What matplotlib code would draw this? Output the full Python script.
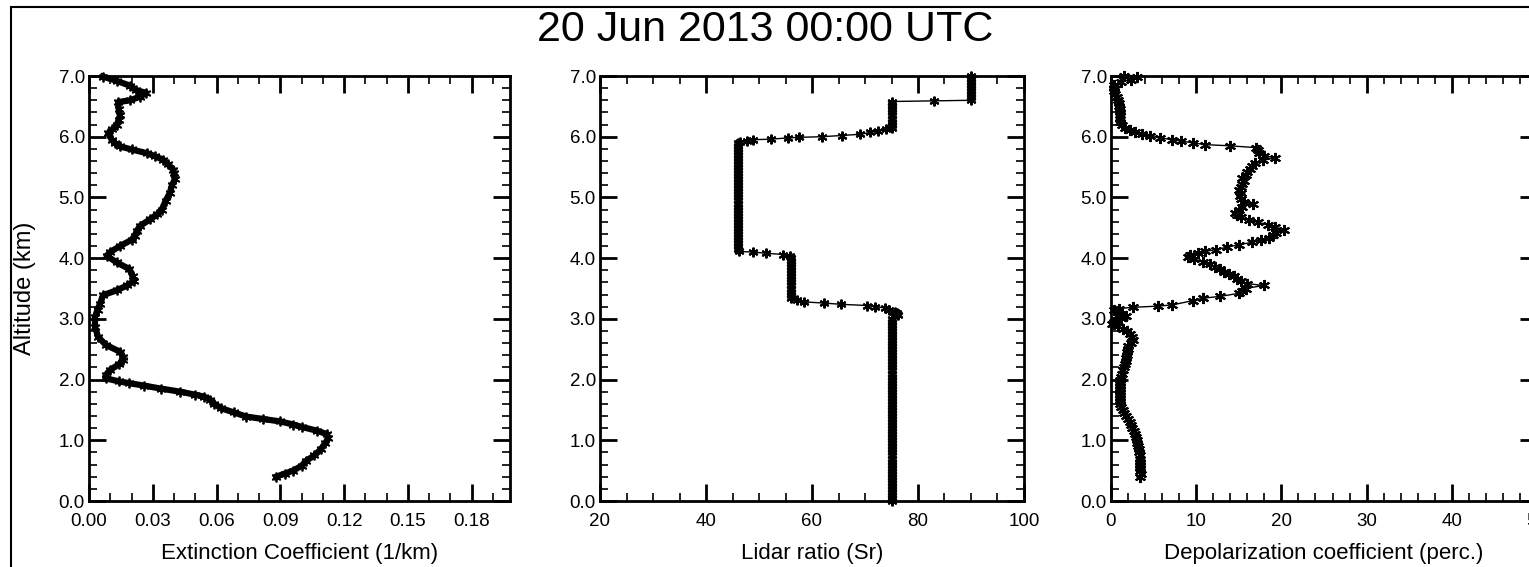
import matplotlib
matplotlib.use("Agg")
import matplotlib.pyplot as plt
from matplotlib.ticker import MultipleLocator, FormatStrFormatter
from matplotlib.patches import Rectangle

plt.rcParams['font.family'] = ['Liberation Sans', 'DejaVu Sans']

title = "20 Jun 2013 00:00 UTC"

# ---- Extinction coefficient (1/km) ----
ext_alt = [0.40, 0.45, 0.50, 0.58, 0.66, 0.75, 0.85, 0.95, 1.03, 1.10, 1.16, 1.22, 1.26, 1.31,
           1.35, 1.39, 1.46, 1.53, 1.60, 1.67, 1.72, 1.75, 1.80, 1.85, 1.90, 1.94, 1.97, 2.02,
           2.08, 2.16, 2.25, 2.32, 2.38, 2.46, 2.57, 2.70, 2.87, 3.03, 3.15, 3.25, 3.39, 3.47,
           3.55, 3.62, 3.70, 3.82, 3.93, 4.04, 4.10, 4.20, 4.30, 4.37, 4.45, 4.53, 4.64, 4.72,
           4.80, 4.94, 5.08, 5.20, 5.30, 5.40, 5.46, 5.55, 5.62, 5.68, 5.73, 5.79, 5.84, 5.90,
           5.95, 6.06, 6.12, 6.19, 6.28, 6.35, 6.45, 6.57, 6.60, 6.66, 6.72, 6.77, 6.84, 6.92,
           6.99]
ext_val = [0.088, 0.092, 0.096, 0.100, 0.102, 0.106, 0.109, 0.111, 0.1125, 0.112, 0.107, 0.100,
           0.096, 0.090, 0.082, 0.074, 0.068, 0.062, 0.059, 0.057, 0.054, 0.050, 0.043, 0.034,
           0.026, 0.019, 0.014, 0.008, 0.008, 0.010, 0.014, 0.016, 0.016, 0.0145, 0.008, 0.0043,
           0.0028, 0.0028, 0.004, 0.0052, 0.0066, 0.013, 0.018, 0.021, 0.0205, 0.019, 0.013,
           0.0083, 0.010, 0.0146, 0.020, 0.0216, 0.0225, 0.024, 0.0287, 0.032, 0.0342, 0.036,
           0.0381, 0.039, 0.0404, 0.0400, 0.0396, 0.037, 0.0349, 0.031, 0.0271, 0.020, 0.0146,
           0.012, 0.0107, 0.0090, 0.011, 0.013, 0.014, 0.0146, 0.014, 0.0137, 0.0193, 0.024,
           0.027, 0.022, 0.0193, 0.013, 0.0066]

# ---- Lidar ratio (Sr) ----
lr_alt = [0.00, 0.05, 0.10, 0.15, 0.20, 0.25, 0.30, 0.35, 0.40, 0.45, 0.50, 0.55, 0.60, 0.65,
          0.70, 0.75, 0.80, 0.85, 0.90, 0.95, 1.00, 1.05, 1.10, 1.15, 1.20, 1.25, 1.30, 1.35,
          1.40, 1.45, 1.50, 1.55, 1.60, 1.65, 1.70, 1.75, 1.80, 1.85, 1.90, 1.95, 2.00, 2.05,
          2.10, 2.15, 2.20, 2.25, 2.30, 2.35, 2.40, 2.45, 2.50, 2.55, 2.60, 2.65, 2.70, 2.75,
          2.80, 2.85, 2.90, 2.95, 3.00, 3.04, 3.07, 3.10, 3.12, 3.15, 3.18, 3.20, 3.22, 3.24,
          3.26, 3.28, 3.31, 3.34, 3.40, 3.45, 3.50, 3.55, 3.60, 3.65, 3.70, 3.75, 3.80, 3.85,
          3.90, 3.95, 4.00, 4.03, 4.06, 4.08, 4.10, 4.11, 4.15, 4.20, 4.25, 4.30, 4.35, 4.40,
          4.45, 4.50, 4.55, 4.60, 4.65, 4.70, 4.75, 4.80, 4.85, 4.90, 4.95, 5.00, 5.05, 5.10,
          5.15, 5.20, 5.25, 5.30, 5.35, 5.40, 5.45, 5.50, 5.55, 5.60, 5.65, 5.70, 5.75, 5.80,
          5.85, 5.90, 5.92, 5.93, 5.95, 5.96, 5.98, 5.99, 6.00, 6.02, 6.04, 6.07, 6.10, 6.13,
          6.15, 6.20, 6.25, 6.30, 6.35, 6.40, 6.45, 6.50, 6.55, 6.58, 6.59, 6.60, 6.65, 6.70,
          6.75, 6.80, 6.85, 6.90, 6.95, 7.00]
lr_val = [75, 75, 75, 75, 75, 75, 75, 75, 75, 75, 75, 75, 75, 75,
          75, 75, 75, 75, 75, 75, 75, 75, 75, 75, 75, 75, 75, 75,
          75, 75, 75, 75, 75, 75, 75, 75, 75, 75, 75, 75, 75, 75,
          75, 75, 75, 75, 75, 75, 75, 75, 75, 75, 75, 75, 75, 75,
          75, 75, 75, 75, 75, 75.5, 76.3, 76.0, 75.7, 74.5, 73.8, 71.9, 70.3, 65.4,
          62.3, 58.4, 57.1, 56, 56, 56, 56, 56, 56, 56, 56, 56, 56, 56,
          56, 56, 56, 55.8, 54.6, 51.4, 48.9, 46.2, 46, 46, 46, 46, 46, 46,
          46, 46, 46, 46, 46, 46, 46, 46, 46, 46, 46, 46, 46, 46,
          46, 46, 46, 46, 46, 46, 46, 46, 46, 46, 46, 46, 46, 46,
          46, 46, 46.4, 47.7, 48.9, 52.2, 55.5, 57.6, 61.8, 65.6, 69.0, 71.0, 72.5, 74.0,
          75, 75, 75, 75, 75, 75, 75, 75, 75, 75, 83, 90, 90, 90,
          90, 90, 90, 90, 90, 90]

# ---- Depolarization coefficient (perc.) ----
dep_alt = [0.40, 0.45, 0.50, 0.55, 0.60, 0.65, 0.70, 0.75, 0.80, 0.85, 0.90, 0.95, 1.00, 1.05,
           1.10, 1.15, 1.20, 1.25, 1.30, 1.35, 1.40, 1.45, 1.50, 1.55, 1.60, 1.65, 1.70, 1.75,
           1.80, 1.85, 1.90, 1.95, 2.00, 2.05, 2.10, 2.15, 2.20, 2.25, 2.30, 2.35, 2.40, 2.45,
           2.50, 2.55, 2.60, 2.65, 2.70, 2.75, 2.80, 2.84, 2.88, 2.92, 2.95, 2.98, 3.02, 3.05,
           3.08, 3.11, 3.14, 3.17, 3.19, 3.21, 3.23, 3.30, 3.34, 3.37, 3.42, 3.46, 3.50, 3.55,
           3.58, 3.62, 3.66, 3.70, 3.74, 3.78, 3.82, 3.86, 3.90, 3.94, 3.98, 4.02, 4.05, 4.08,
           4.11, 4.14, 4.18, 4.22, 4.26, 4.30, 4.34, 4.38, 4.42, 4.47, 4.51, 4.55, 4.59, 4.63,
           4.67, 4.71, 4.75, 4.80, 4.85, 4.90, 4.93, 4.97, 5.02, 5.07, 5.12, 5.17, 5.22, 5.27,
           5.32, 5.37, 5.42, 5.47, 5.52, 5.57, 5.61, 5.65, 5.69, 5.73, 5.78, 5.82, 5.85, 5.87,
           5.90, 5.93, 5.95, 5.98, 6.01, 6.04, 6.07, 6.11, 6.15, 6.20, 6.25, 6.30, 6.35, 6.40,
           6.45, 6.50, 6.55, 6.60, 6.65, 6.70, 6.75, 6.80, 6.85, 6.90, 6.94, 6.98, 7.00]
dep_val = [3.4, 3.5, 3.4, 3.4, 3.45, 3.4, 3.4, 3.35, 3.3, 3.25, 3.2, 3.1, 3.05, 2.95,
           2.8, 2.65, 2.5, 2.4, 2.2, 2.0, 1.8, 1.55, 1.35, 1.2, 1.1, 1.05, 1.0, 1.0,
           1.0, 1.0, 1.0, 1.05, 1.1, 1.2, 1.3, 1.45, 1.55, 1.65, 1.75, 1.8, 1.85, 1.9,
           1.95, 2.05, 2.3, 2.6, 2.5, 2.2, 1.9, 1.4, 0.8, 0.1, 0.4, 0.6, 1.2, 1.8,
           1.3, 0.8, 0.4, 0.9, 2.6, 5.5, 7.2, 9.6, 10.8, 12.8, 15.0, 15.4, 15.8, 17.9,
           16.0, 15.2, 14.8, 14.4, 13.8, 13.3, 12.8, 12.2, 11.6, 10.8, 9.8, 9.0, 9.3, 10.2,
           11.0, 12.3, 13.6, 15.0, 16.5, 17.6, 18.6, 19.0, 19.4, 20.3, 19.2, 18.4, 17.2, 16.2,
           15.3, 14.8, 14.6, 15.0, 15.4, 16.7, 15.6, 15.2, 15.1, 15.2, 15.0, 15.3, 15.4, 15.6,
           15.4, 15.8, 16.0, 16.3, 16.5, 16.9, 17.8, 19.2, 18.0, 17.4, 17.2, 17.0, 14.0, 11.0,
           9.6, 8.2, 7.2, 5.8, 4.6, 3.6, 2.8, 2.2, 1.7, 1.3, 1.1, 1.1, 1.0, 1.05,
           1.0, 0.9, 0.9, 0.8, 0.7, 0.5, 0.4, 0.3, 0.3, 1.2, 2.3, 3.0, 1.5]

W, H = 1529, 567
fig = plt.figure(figsize=(W / 100, H / 100), dpi=100)

def px_axes(left, right, top, bottom):
    return fig.add_axes([left / W, 1 - bottom / H, (right - left) / W, (bottom - top) / H])

ax1 = px_axes(89, 510, 76, 501)
ax2 = px_axes(600, 1024, 76, 501)
ax3 = px_axes(1111, 1537, 76, 501)

def style(ax, xlim, xmaj, xmin, xfmt):
    ax.set_xlim(*xlim)
    ax.set_ylim(0, 7)
    ax.xaxis.set_major_locator(MultipleLocator(xmaj))
    ax.xaxis.set_minor_locator(MultipleLocator(xmin))
    ax.yaxis.set_major_locator(MultipleLocator(1.0))
    ax.yaxis.set_minor_locator(MultipleLocator(0.2))
    ax.xaxis.set_major_formatter(FormatStrFormatter(xfmt))
    ax.yaxis.set_major_formatter(FormatStrFormatter('%.1f'))
    ax.tick_params(which='both', direction='in', top=True, right=True, labelsize=13.5)
    ax.tick_params(which='major', length=12, width=2)
    ax.tick_params(which='minor', length=5.5, width=1.2)
    ax.tick_params(axis='x', which='major', pad=9)
    ax.tick_params(axis='y', which='major', pad=3)
    for s in ax.spines.values():
        s.set_linewidth(2)

style(ax1, (0, 0.198), 0.03, 0.01, '%.2f')
style(ax2, (20, 100), 20, 5, '%d')
style(ax3, (0, 50), 10, 2, '%d')

asterisk = (6, 2, 0)
ax1.plot(ext_val, ext_alt, color='black', lw=4.5, marker=asterisk, ms=7, mew=1.3, clip_on=False)
ax2.plot(lr_val, lr_alt, color='black', lw=1, marker=asterisk, ms=7, mew=1.5, clip_on=False)
ax3.plot(dep_val, dep_alt, color='black', lw=1, marker=asterisk, ms=8, mew=1.5, clip_on=False)

ax1.set_xlabel('Extinction Coefficient (1/km)', fontsize=16, labelpad=9)
ax2.set_xlabel('Lidar ratio (Sr)', fontsize=16, labelpad=9)
ax3.set_xlabel('Depolarization coefficient (perc.)', fontsize=16, labelpad=9)
ax1.set_ylabel('Altitude (km)', fontsize=17, labelpad=16.5)

fig.text(765.5 / W, 1 - 30 / H, title, ha='center', va='center', fontsize=31)

fig.add_artist(Rectangle((11 / W, -0.1), 1.2, 1.1 - 7 / H, transform=fig.transFigure,
                         fill=False, lw=1.5, ec='black'))

fig.savefig('out.png', dpi=100)
